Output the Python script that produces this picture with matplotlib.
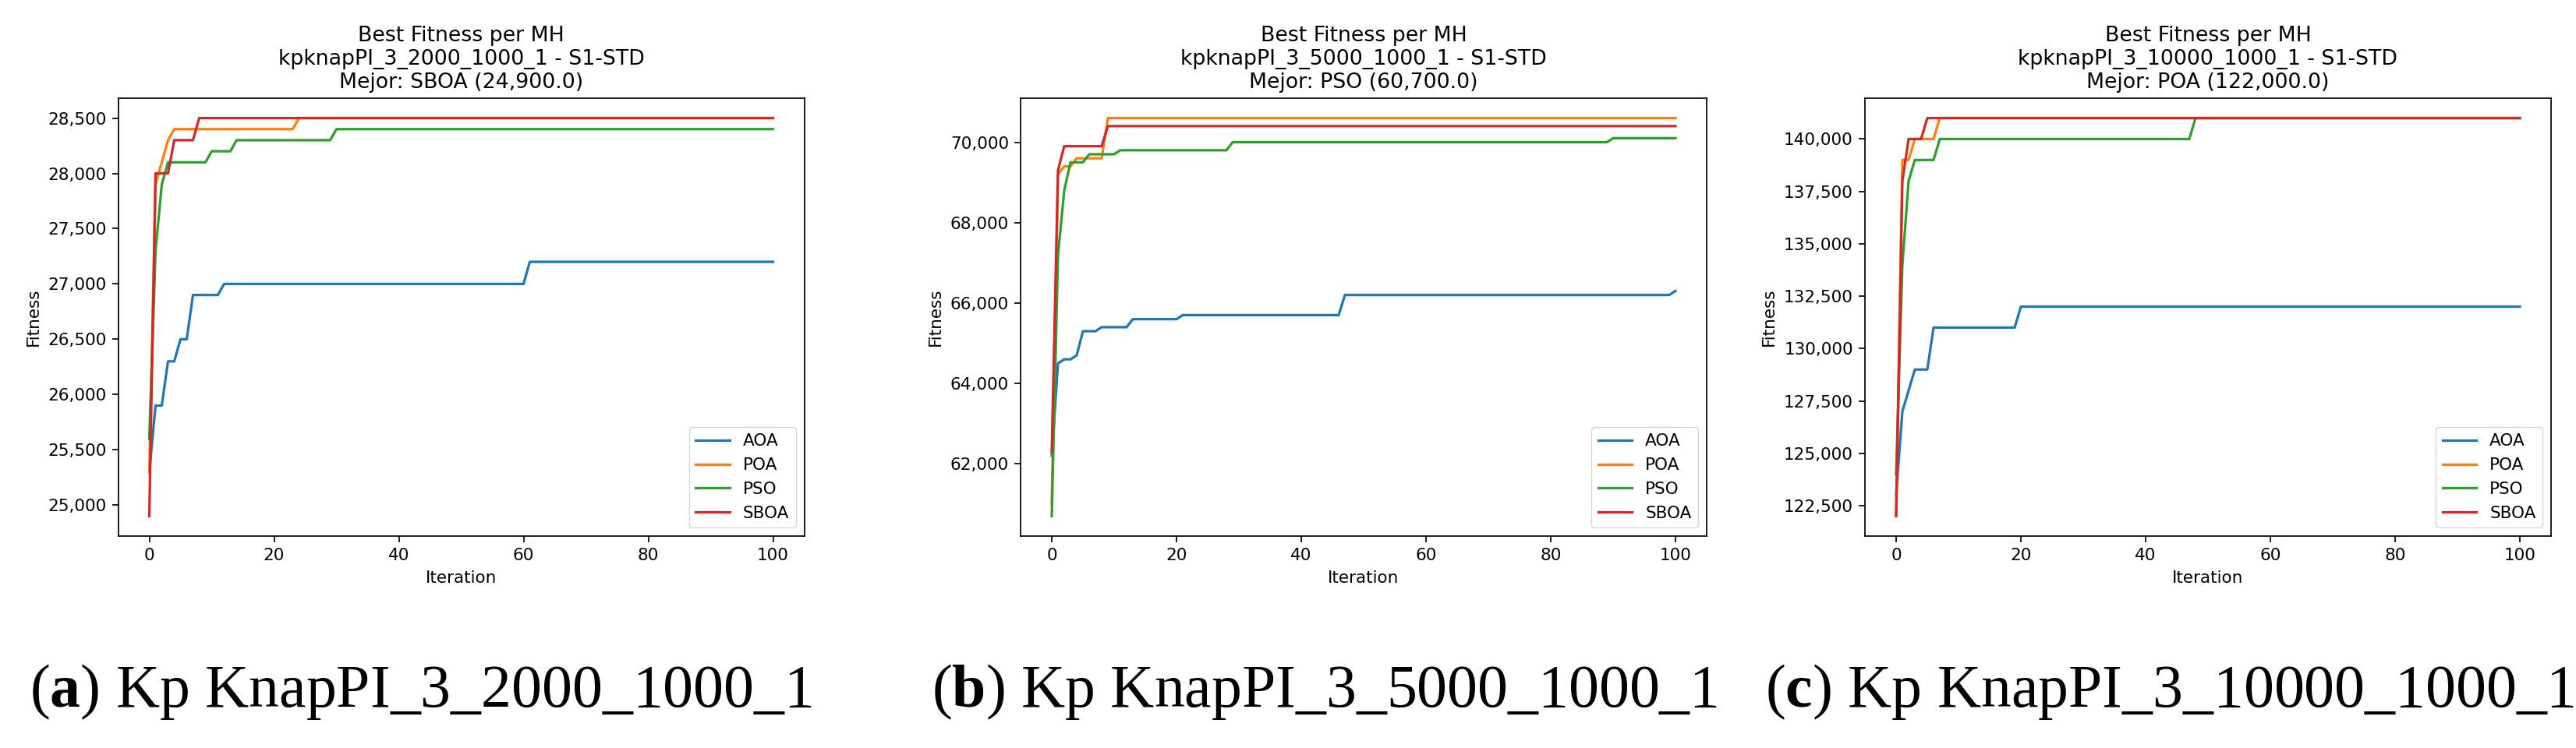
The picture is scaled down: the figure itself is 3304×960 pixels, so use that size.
import matplotlib
matplotlib.use('Agg')
import matplotlib.pyplot as plt
from matplotlib.ticker import FuncFormatter, MultipleLocator

# corner points (iteration, best fitness)
mh_names = ['AOA', 'POA', 'PSO', 'SBOA']

# (a) KnapPI_3_2000_1000_1
a_aoa_it = [0, 1, 2, 3, 4, 5, 6, 7, 11, 12, 60, 61, 100]
a_aoa_fit = [25300, 25900, 25900, 26300, 26300, 26500, 26500, 26900, 26900, 27000, 27000, 27200, 27200]
a_poa_it = [0, 1, 2, 3, 4, 23, 24, 100]
a_poa_fit = [25300, 27900, 28100, 28300, 28400, 28400, 28500, 28500]
a_pso_it = [0, 1, 2, 3, 9, 10, 13, 14, 29, 30, 100]
a_pso_fit = [25600, 27300, 27900, 28100, 28100, 28200, 28200, 28300, 28300, 28400, 28400]
a_sboa_it = [0, 1, 3, 4, 7, 8, 100]
a_sboa_fit = [24900, 28000, 28000, 28300, 28300, 28500, 28500]

# (b) KnapPI_3_5000_1000_1
b_aoa_it = [0, 1, 2, 3, 4, 5, 7, 8, 12, 13, 20, 21, 46, 47, 99, 100]
b_aoa_fit = [62200, 64500, 64600, 64600, 64700, 65300, 65300, 65400, 65400, 65600, 65600, 65700, 65700, 66200, 66200, 66300]
b_poa_it = [0, 1, 2, 3, 4, 8, 9, 100]
b_poa_fit = [61000, 69200, 69400, 69400, 69600, 69600, 70600, 70600]
b_pso_it = [0, 1, 2, 3, 5, 6, 10, 11, 28, 29, 89, 90, 100]
b_pso_fit = [60700, 67200, 68800, 69500, 69500, 69700, 69700, 69800, 69800, 70000, 70000, 70100, 70100]
b_sboa_it = [0, 1, 2, 8, 9, 100]
b_sboa_fit = [62300, 69300, 69900, 69900, 70400, 70400]

# (c) KnapPI_3_10000_1000_1
c_aoa_it = [0, 1, 2, 3, 5, 6, 19, 20, 100]
c_aoa_fit = [123000, 127000, 128000, 129000, 129000, 131000, 131000, 132000, 132000]
c_poa_it = [0, 1, 2, 3, 6, 7, 100]
c_poa_fit = [122000, 139000, 139000, 140000, 140000, 141000, 141000]
c_pso_it = [0, 1, 2, 3, 6, 7, 47, 48, 100]
c_pso_fit = [124000, 134000, 138000, 139000, 139000, 140000, 140000, 141000, 141000]
c_sboa_it = [0, 1, 2, 4, 5, 100]
c_sboa_fit = [122000, 138000, 140000, 140000, 141000, 141000]

titles = ['Best Fitness per MH\nkpknapPI_3_2000_1000_1 - S1-STD\nMejor: SBOA (24,900.0)',
          'Best Fitness per MH\nkpknapPI_3_5000_1000_1 - S1-STD\nMejor: PSO (60,700.0)',
          'Best Fitness per MH\nkpknapPI_3_10000_1000_1 - S1-STD\nMejor: POA (122,000.0)']
captions = [r'($\mathbf{a}$) Kp KnapPI_3_2000_1000_1',
            r'($\mathbf{b}$) Kp KnapPI_3_5000_1000_1',
            r'($\mathbf{c}$) Kp KnapPI_3_10000_1000_1']
ytick_steps = [500, 2000, 2500]

panels = [
    [(a_aoa_it, a_aoa_fit), (a_poa_it, a_poa_fit), (a_pso_it, a_pso_fit), (a_sboa_it, a_sboa_fit)],
    [(b_aoa_it, b_aoa_fit), (b_poa_it, b_poa_fit), (b_pso_it, b_pso_fit), (b_sboa_it, b_sboa_fit)],
    [(c_aoa_it, c_aoa_fit), (c_poa_it, c_poa_fit), (c_pso_it, c_pso_fit), (c_sboa_it, c_sboa_fit)],
]

s = 1.55  # the panels were scaled up from default matplotlib sizes
plt.rcParams['font.family'] = ['DejaVu Sans']
plt.rcParams['mathtext.fontset'] = 'custom'
plt.rcParams['mathtext.rm'] = 'Liberation Serif'
plt.rcParams['mathtext.bf'] = 'Liberation Serif:bold'
plt.rcParams['axes.linewidth'] = 0.8 * s
plt.rcParams['xtick.major.width'] = 0.8 * s
plt.rcParams['ytick.major.width'] = 0.8 * s
plt.rcParams['xtick.major.size'] = 3.5 * s
plt.rcParams['ytick.major.size'] = 3.5 * s
plt.rcParams['xtick.major.pad'] = 3.5 * s
plt.rcParams['ytick.major.pad'] = 3.5 * s

W, H = 3304, 960
fig = plt.figure(figsize=(W / 100, H / 100), dpi=100)

ax_left = [151.5, 1309, 2392]
cap_x = [540, 1699, 2783]

for k in range(3):
    ax = fig.add_axes([ax_left[k] / W, (H - 688) / H, 880 / W, 562 / H])
    for (it, fit), name in zip(panels[k], mh_names):
        ax.plot(it, fit, label=name, lw=1.5 * s)
    ax.set_title(titles[k], fontsize=12.4 * s, pad=6 * s)
    ax.set_xlabel('Iteration', fontsize=10 * s, labelpad=4 * s)
    ax.set_ylabel('Fitness', fontsize=10 * s, labelpad=4 * s)
    ax.tick_params(labelsize=10 * s)
    ax.yaxis.set_major_locator(MultipleLocator(ytick_steps[k]))
    ax.yaxis.set_major_formatter(FuncFormatter(lambda v, p: f'{v:,.0f}'))
    ax.legend(loc='lower right', fontsize=10 * s)
    fig.text(cap_x[k] / W, (H - 907) / H, captions[k], ha='center', va='baseline',
             family='Liberation Serif', fontsize=56)

fig.savefig('out.png', dpi=100)
